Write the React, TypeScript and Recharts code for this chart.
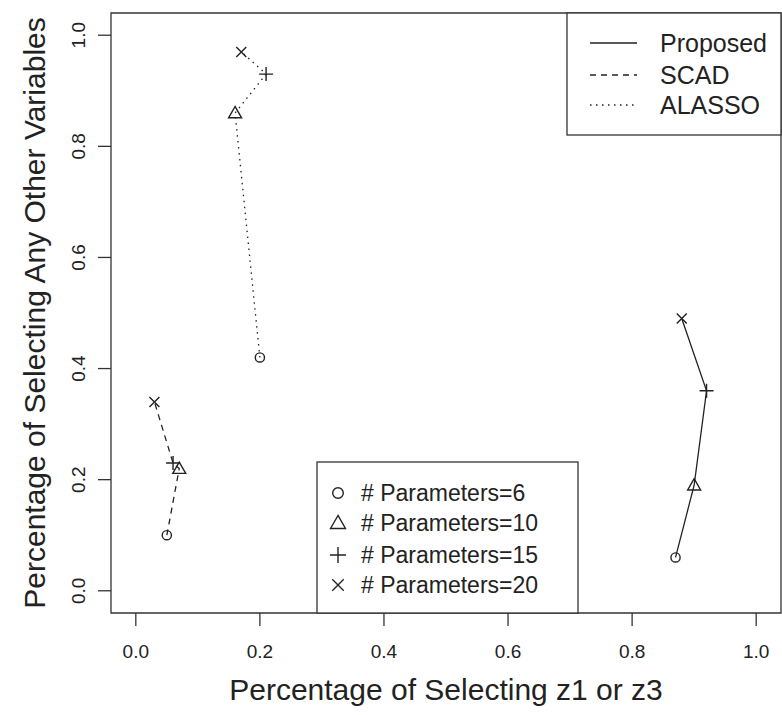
import { ReferenceArea, Scatter, ScatterChart, XAxis, YAxis } from 'recharts';

// number of parameters in the model, one point per setting
const paramCounts = [6, 10, 15, 20];

// x = percentage of selecting z1 or z3, y = percentage of selecting any other variables
const proposedX = [0.87, 0.9, 0.92, 0.88];
const proposedY = [0.06, 0.19, 0.36, 0.49];
const scadX = [0.05, 0.07, 0.06, 0.03];
const scadY = [0.1, 0.22, 0.23, 0.34];
const alassoX = [0.2, 0.16, 0.21, 0.17];
const alassoY = [0.42, 0.86, 0.93, 0.97];

const axisTicks = [0, 0.2, 0.4, 0.6, 0.8, 1];
const methodNames = ['Proposed', 'SCAD', 'ALASSO'];
const methodDash = ['', '6 5', '1.5 4.5'];

const FONT = '"Liberation Sans", Arial, Helvetica, sans-serif';
const INK = '#222';

function toPoints(xs: number[], ys: number[]) {
  return paramCounts.map((n, i) => ({ x: xs[i], y: ys[i], n }));
}

function Marker({ cx, cy, n, s = 1 }: { cx: number; cy: number; n: number; s?: number }) {
  const common = { fill: 'none', stroke: INK, strokeWidth: 1.4 };
  if (n === 6) return <circle cx={cx} cy={cy} r={4.6 * s} {...common} />;
  if (n === 10) {
    const pts = `${cx},${cy - 6.5 * s} ${cx - 6.5 * s},${cy + 4.8 * s} ${cx + 6.5 * s},${cy + 4.8 * s}`;
    return <polygon points={pts} {...common} strokeLinejoin="miter" />;
  }
  if (n === 15) {
    const d = 7 * s;
    return <path d={`M${cx - d},${cy}H${cx + d}M${cx},${cy - d}V${cy + d}`} {...common} />;
  }
  const d = 5 * s;
  return <path d={`M${cx - d},${cy - d}L${cx + d},${cy + d}M${cx - d},${cy + d}L${cx + d},${cy - d}`} {...common} />;
}

const pointShape = (p: any) => <Marker cx={p.cx} cy={p.cy} n={p.payload.n} />;

function XTick({ x, payload }: any) {
  return (
    <text x={x} y={658} textAnchor="middle" fontSize={19} fill={INK} fontFamily={FONT}>
      {Number(payload.value).toFixed(1)}
    </text>
  );
}

function YTick({ y, payload }: any) {
  return (
    <text x={85} y={y} transform={`rotate(-90 85 ${y})`} textAnchor="middle" fontSize={19} fill={INK} fontFamily={FONT}>
      {Number(payload.value).toFixed(1)}
    </text>
  );
}

function XTitle() {
  return (
    <text x={446} y={700} textAnchor="middle" fontSize={30} fill={INK} fontFamily={FONT}>
      Percentage of Selecting z1 or z3
    </text>
  );
}

function YTitle() {
  return (
    <text x={45} y={313} transform="rotate(-90 45 313)" textAnchor="middle" fontSize={30} fill={INK} fontFamily={FONT}>
      Percentage of Selecting Any Other Variables
    </text>
  );
}

function Legends() {
  const rows1 = [43, 75, 105];
  const rows2 = [493, 523, 555, 585];
  return (
    <svg width={782} height={715} style={{ position: 'absolute', left: 0, top: 0, pointerEvents: 'none' }}>
      <rect x={567} y={13} width={214} height={122} fill="#fff" stroke="#333" strokeWidth={1.3} />
      {methodNames.map((name, i) => (
        <g key={name}>
          <line x1={590} x2={637} y1={rows1[i]} y2={rows1[i]} stroke={INK} strokeWidth={1.3} strokeDasharray={methodDash[i] || undefined} />
          <text x={660} y={rows1[i]} dominantBaseline="central" fontSize={25} fill={INK} fontFamily={FONT}>
            {name}
          </text>
        </g>
      ))}
      <rect x={317} y={462} width={261} height={151} fill="#fff" stroke="#333" strokeWidth={1.3} />
      {paramCounts.map((n, i) => (
        <g key={n}>
          <Marker cx={338} cy={rows2[i]} n={n} s={1.15} />
          <text x={361} y={rows2[i]} dominantBaseline="central" fontSize={23} fill={INK} fontFamily={FONT}>
            # Parameters={n}
          </text>
        </g>
      ))}
    </svg>
  );
}

export default function App() {
  return (
    <div style={{ position: 'absolute', left: 0, top: 0, width: 782, height: 715, background: '#fff' }}>
      <ScatterChart width={782} height={715} margin={{ top: 13, right: 1, bottom: 0, left: 0 }}>
        <XAxis
          type="number"
          dataKey="x"
          domain={[-0.04, 1.04]}
          ticks={axisTicks}
          allowDataOverflow
          height={102}
          axisLine={false}
          tickSize={13}
          tickLine={{ stroke: '#333', strokeWidth: 1.3 }}
          tick={<XTick />}
          label={<XTitle />}
        />
        <YAxis
          type="number"
          dataKey="y"
          domain={[-0.04, 1.04]}
          ticks={axisTicks}
          allowDataOverflow
          width={111}
          axisLine={false}
          tickSize={13}
          tickLine={{ stroke: '#333', strokeWidth: 1.3 }}
          tick={<YTick />}
          label={<YTitle />}
        />
        <ReferenceArea x1={-0.04} x2={1.04} y1={-0.04} y2={1.04} fill="none" stroke="#333" strokeWidth={1.3} fillOpacity={0} />
        <Scatter
          name="Proposed"
          data={toPoints(proposedX, proposedY)}
          line={{ stroke: INK, strokeWidth: 1.3 }}
          lineType="joint"
          shape={pointShape}
          isAnimationActive={false}
        />
        <Scatter
          name="SCAD"
          data={toPoints(scadX, scadY)}
          line={{ stroke: INK, strokeWidth: 1.3, strokeDasharray: '6 5' }}
          lineType="joint"
          shape={pointShape}
          isAnimationActive={false}
        />
        <Scatter
          name="ALASSO"
          data={toPoints(alassoX, alassoY)}
          line={{ stroke: INK, strokeWidth: 1.3, strokeDasharray: '1.5 4.5' }}
          lineType="joint"
          shape={pointShape}
          isAnimationActive={false}
        />
      </ScatterChart>
      <Legends />
    </div>
  );
}
